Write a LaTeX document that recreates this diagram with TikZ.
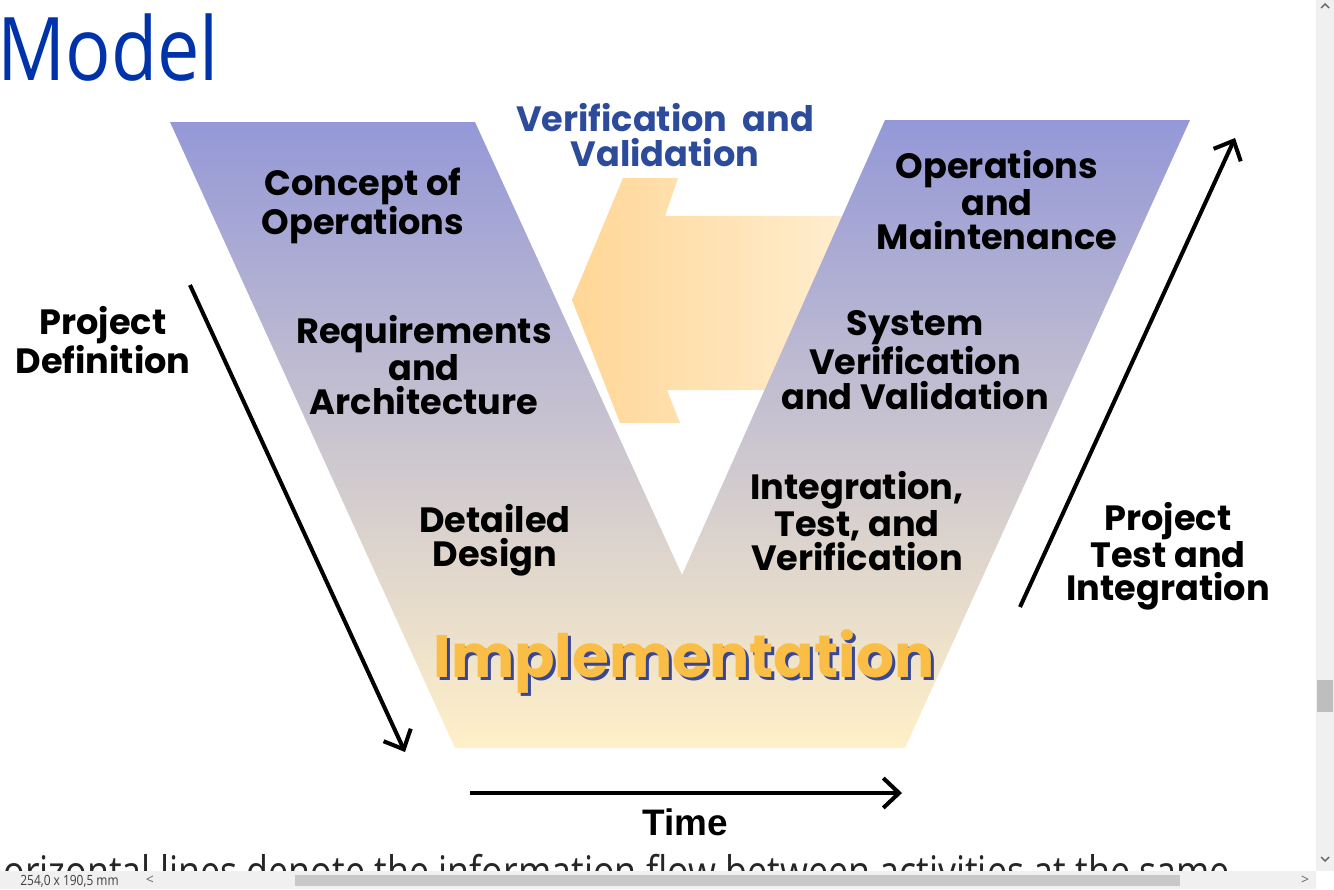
\documentclass[tikz,border=0pt]{standalone}
\usepackage{fontspec}
\setmainfont{Open Sans}
\newfontfamily\vfont{Poppins}
\newfontfamily\timefont{Liberation Sans}
\usetikzlibrary{arrows.meta}

\definecolor{titleblue}{RGB}{0,51,170}
\definecolor{vvblue}{RGB}{45,75,155}
\definecolor{vtop}{RGB}{148,152,215}
\definecolor{vmid}{RGB}{198,180,215}
\definecolor{vbot}{RGB}{255,240,200}
\definecolor{arrleft}{RGB}{255,214,150}
\definecolor{arrright}{RGB}{255,238,208}
\definecolor{implorange}{RGB}{250,190,70}
\definecolor{implshadow}{RGB}{55,70,150}
\definecolor{barbg}{RGB}{240,240,240}
\definecolor{thumb}{RGB}{200,200,200}

\tikzset{
  vlabel/.style={font=\vfont\bfseries\fontsize{20}{19.5}\selectfont, align=center, inner sep=0pt},
  sidelabel/.style={font=\vfont\bfseries\fontsize{20}{19}\selectfont, align=center, inner sep=0pt},
  flowarrow/.style={line width=2.3pt, -{Straight Barb[length=9pt,width=17pt]}},
}

\begin{document}
\begin{tikzpicture}[x=0.02cm,y=-0.02cm]
        \useasboundingbox (0,0) rectangle (1334,889);

        % Title and body text of the slide
        \node[anchor=base west, inner sep=0pt, text=titleblue, font=\fontsize{50}{50}\selectfont] (title) at (-3,80) {\scalebox{0.86}[1]{Model}};
        \begin{scope}
          \clip (0,0) rectangle (1316,871);
          \node[anchor=base west, inner sep=0pt, text=black!85, font=\fontsize{24}{24}\selectfont] (body) at (-19,886) {\scalebox{0.85}[1]{horizontal lines denote the information flow between activities at the same}};
        \end{scope}

        % Verification and validation arrow (behind the V)
        \shade[left color=arrleft, right color=arrright] (623,178) -- (678,178) -- (665,216) -- (850,216) -- (850,390) -- (667,390) -- (680,423) -- (620,423) -- (572,300) -- cycle;

        % The V itself
        \shade[top color=vtop, middle color=vmid, bottom color=vbot] (170,122) -- (475,122) -- (682,575) -- (885,120) -- (1190,120) -- (905,748) -- (455,748) -- cycle;

        % Phases on the left arm
        \node[vlabel] (concept) at (363,206) {Concept of\\Operations};
        \node[vlabel] (reqs) at (424,365) {Requirements\\and\\Architecture};
        \node[vlabel] (detail) at (495,540) {Detailed\\Design};

        % Phases on the right arm
        \node[vlabel] (opsmaint) at (997,200) {Operations\\and\\Maintenance};
        \node[vlabel] (sysvv) at (915,360) {System\\Verification\\and Validation};
        \node[vlabel] (integ) at (857,521) {Integration,\\Test, and\\Verification};

        % Bottom of the V
        \node[text=implshadow, font=\vfont\bfseries\fontsize{34}{34}\selectfont, inner sep=0pt] (implshade) at (687,665) {Implementation};
        \node[text=implorange, font=\vfont\bfseries\fontsize{34}{34}\selectfont, inner sep=0pt] (impl) at (684,662) {Implementation};

        % Heading over the yellow arrow
        \node[text=vvblue, font=\vfont\bfseries\fontsize{20}{19.5}\selectfont, align=center, inner sep=0pt] (vv) at (665,135) {Verification\ \ and\\Validation};

        % Side labels
        \node[sidelabel] (projdef) at (103,340) {Project\\Definition};
        \node[sidelabel] (projtest) at (1168,556) {Project\\Test and\\Integration};

        % Direction arrows
        \coordinate (pdstart) at (190,285);
        \coordinate (pdend) at (405,752);
        \coordinate (ptstart) at (1020,607);
        \coordinate (ptend) at (1235,138);
        \coordinate (tstart) at (470,793);
        \coordinate (tend) at (902,793);
        \draw[flowarrow] (pdstart) -- (pdend);
        \draw[flowarrow] (ptstart) -- (ptend);
        \draw[flowarrow] (tstart) -- (tend);
        \node[font=\timefont\bfseries\fontsize{21}{21}\selectfont, inner sep=0pt] (time) at (685,822) {Time};

        % Viewer chrome: status bar and scroll bars
        \fill[barbg] (0,871) rectangle (1316,889);
        \fill[thumb] (295,875) rectangle (1180,886);
        \node[anchor=west, inner sep=0pt, text=black!75, font=\fontsize{8}{8}\selectfont] (size) at (20,881) {\scalebox{0.85}[1]{254,0 x 190,5 mm}};
        \node[inner sep=0pt, text=black!60, font=\fontsize{8}{8}\selectfont] (left) at (150,880) {<};
        \node[inner sep=0pt, text=black!60, font=\fontsize{8}{8}\selectfont] (right) at (1305,880) {>};
        \fill[barbg] (1316,0) rectangle (1334,871);
        \fill[thumb!95!black] (1317,680) rectangle (1333,712);
        \draw[black!60, line width=0.8pt] (1321,8) -- (1325,4) -- (1329,8);
        \draw[black!60, line width=0.8pt] (1321,857) -- (1325,861) -- (1329,857);

\end{tikzpicture}
\end{document}
